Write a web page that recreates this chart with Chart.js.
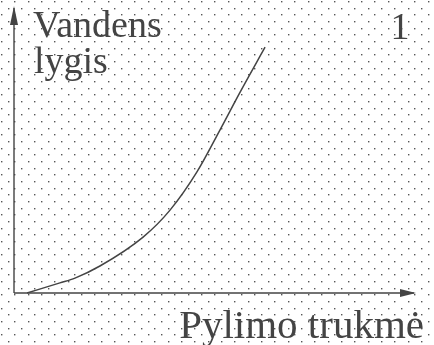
<!DOCTYPE html>
<html>
<head>
<meta charset="utf-8">
<script src="https://cdn.jsdelivr.net/npm/chart.js@4"></script>
<style>
  html, body { margin: 0; padding: 0; background: #fff; }
  canvas { display: block; }
</style>
</head>
<body>
<canvas id="levelChart" width="434" height="345"></canvas>
<script>
// water level rising over the dam's duration
const timeValues = [0.033, 0.116, 0.154, 0.217, 0.326, 0.394, 0.462, 0.520, 0.571, 0.634];
const levelValues = [0.0, 0.036, 0.053, 0.096, 0.199, 0.295, 0.431, 0.580, 0.715, 0.875];
const yAxisTitle = ['Vandens', 'lygis'];
const xAxisTitle = 'Pylimo trukmė';
const cornerLabel = '1';

const ink = '#444';
const serif = '"Liberation Serif", "Times New Roman", serif';

// light dotted paper behind everything
const dottedPaper = {
    id: 'dottedPaper',
    beforeDraw(chart) {
        const ctx = chart.ctx;
        const step = 20 / 3;
        ctx.save();
        ctx.fillStyle = '#fff';
        ctx.fillRect(0, 0, chart.width, chart.height);
        ctx.fillStyle = '#555';
        for (let r = 0; r * step < chart.height; r++) {
            const y = Math.round(r * step) + 1;
            for (let c = r % 2; c * step < chart.width; c += 2) {
                const x = Math.round(c * step) + 1;
                ctx.fillRect(x, y, 1.4, 1.4);
            }
        }
        ctx.restore();
    }
};

// axes with arrow heads and the text labels
const axesAndLabels = {
    id: 'axesAndLabels',
    afterDatasetsDraw(chart) {
        const ctx = chart.ctx;
        const a = chart.chartArea;
        ctx.save();
        ctx.strokeStyle = ink;
        ctx.fillStyle = ink;
        ctx.lineWidth = 1.4;

        ctx.beginPath();
        ctx.moveTo(a.left, a.bottom);
        ctx.lineTo(a.left, a.top - 4);
        ctx.moveTo(a.left, a.bottom);
        ctx.lineTo(a.right + 4, a.bottom);
        ctx.stroke();

        ctx.beginPath();
        ctx.moveTo(a.left, a.top - 6);
        ctx.lineTo(a.left - 4, a.top + 13);
        ctx.lineTo(a.left + 4, a.top + 13);
        ctx.closePath();
        ctx.fill();

        ctx.beginPath();
        ctx.moveTo(a.right + 6, a.bottom);
        ctx.lineTo(a.right - 10, a.bottom - 4);
        ctx.lineTo(a.right - 10, a.bottom + 4);
        ctx.closePath();
        ctx.fill();

        ctx.font = '38px ' + serif;
        ctx.textBaseline = 'alphabetic';
        ctx.textAlign = 'left';
        ctx.fillText(yAxisTitle[0], 33, 37);
        ctx.fillText(yAxisTitle[1], 34, 73);
        ctx.textAlign = 'center';
        ctx.fillText(cornerLabel, 400, 39);

        ctx.font = '41px ' + serif;
        ctx.textAlign = 'right';
        ctx.fillText(xAxisTitle, 424, 338);
        ctx.restore();
    }
};

new Chart(document.getElementById('levelChart'), {
    type: 'line',
    data: {
        datasets: [{
            data: timeValues.map((t, i) => ({ x: t, y: levelValues[i] })),
            borderColor: ink,
            borderWidth: 1.5,
            pointRadius: 0,
            cubicInterpolationMode: 'monotone',
            fill: false,
            clip: false
        }]
    },
    options: {
        responsive: false,
        animation: false,
        layout: { padding: { left: 14, right: 24, top: 12, bottom: 52 } },
        plugins: { legend: { display: false }, tooltip: { enabled: false } },
        scales: {
            x: { type: 'linear', min: 0, max: 1, display: false },
            y: { min: 0, max: 1, display: false }
        }
    },
    plugins: [dottedPaper, axesAndLabels]
});
</script>
</body>
</html>
